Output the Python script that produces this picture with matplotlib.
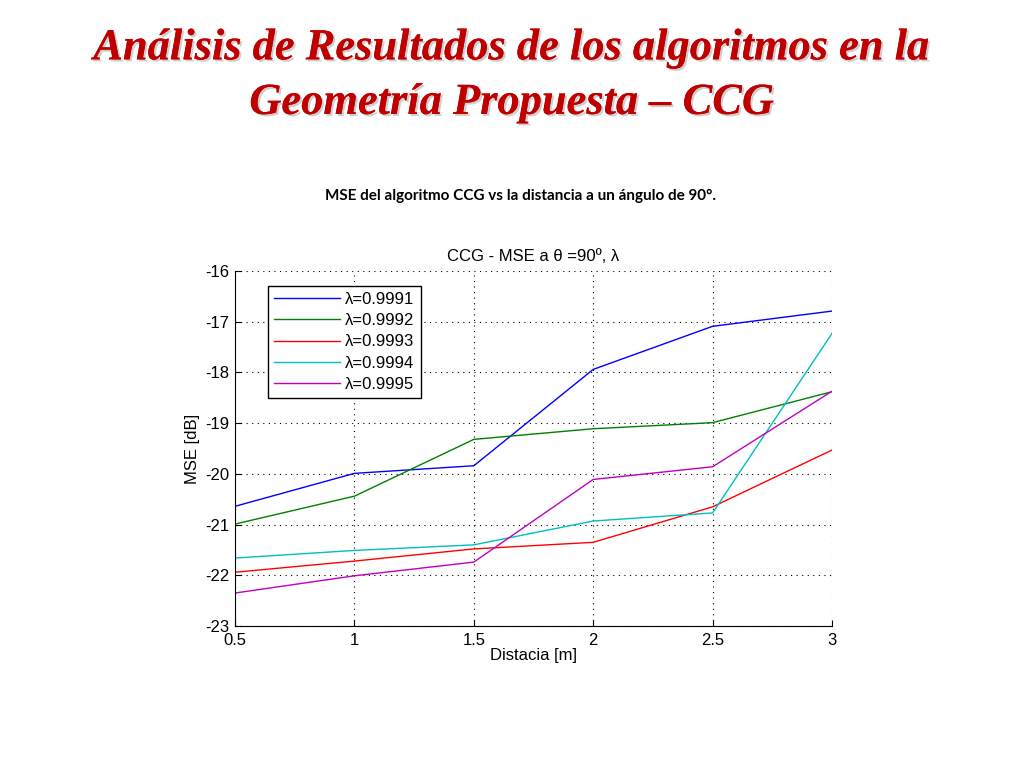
import matplotlib
matplotlib.use("Agg")
import matplotlib.pyplot as plt
import matplotlib.patheffects as pe

plt.rcParams["axes.unicode_minus"] = False

distancia = [0.5, 1.0, 1.5, 2.0, 2.5, 3.0]
lambdas = ["0.9991", "0.9992", "0.9993", "0.9994", "0.9995"]
mse_9991 = [-20.64, -19.99, -19.84, -17.94, -17.09, -16.79]
mse_9992 = [-20.99, -20.44, -19.32, -19.11, -18.99, -18.38]
mse_9993 = [-21.94, -21.72, -21.48, -21.35, -20.65, -19.53]
mse_9994 = [-21.66, -21.51, -21.40, -20.93, -20.77, -17.23]
mse_9995 = [-22.35, -22.01, -21.74, -20.11, -19.86, -18.37]
series = [mse_9991, mse_9992, mse_9993, mse_9994, mse_9995]
colors = ["#0000ff", "#008000", "#ff0000", "#00bfbf", "#bf00bf"]

fig = plt.figure(figsize=(10.24, 7.68), dpi=100)
fig.patch.set_facecolor("white")

title_fx = [pe.withSimplePatchShadow(offset=(1.5, -1.5), shadow_rgbFace="#b0b0b0", alpha=0.6), pe.Normal()]
fig.text(0.5, 0.937, "Análisis de Resultados de los algoritmos en la", ha="center", va="center",
         fontsize=32, fontweight="bold", fontstyle="italic", family="Liberation Serif",
         color="#c00000", path_effects=title_fx)
fig.text(0.5, 0.866, "Geometría Propuesta – CCG", ha="center", va="center",
         fontsize=32, fontweight="bold", fontstyle="italic", family="Liberation Serif",
         color="#c00000", path_effects=title_fx)
fig.text(0.508, 0.745, "MSE del algoritmo CCG vs la distancia a un ángulo de 90°.", ha="center", va="center",
         fontsize=11, fontweight="bold", family="Lato", color="black")

ax = fig.add_axes([0.2295, 0.1849, 0.583, 0.4622])
for vals, lam, c in zip(series, lambdas, colors):
    ax.plot(distancia, vals, color=c, lw=1.0, label="λ=" + lam)

ax.set_xlim(0.5, 3)
ax.set_ylim(-23, -16)
ax.set_xticks(distancia)
ax.set_xticklabels(["0.5", "1", "1.5", "2", "2.5", "3"])
ax.set_yticks(range(-23, -15))
ax.grid(True, color="black", linestyle=(0, (1, 4)), linewidth=0.8)
ax.spines["top"].set_visible(False)
ax.spines["right"].set_visible(False)
ax.tick_params(direction="in", labelsize=12, length=4)
ax.tick_params(axis="x", pad=5)
ax.tick_params(axis="y", pad=4)
for lbl in ax.get_xticklabels() + ax.get_yticklabels():
    lbl.set_family("Liberation Sans")
ax.set_title("CCG - MSE a θ =90º, λ", fontsize=12, family="Liberation Sans", pad=7)
ax.set_xlabel("Distacia [m]", fontsize=12, family="Liberation Sans", labelpad=0)
ax.set_ylabel("MSE [dB]", fontsize=12, family="Liberation Sans", labelpad=4)

leg = ax.legend(loc="upper left", bbox_to_anchor=(0.055, 0.958), borderaxespad=0,
                fancybox=False, edgecolor="black", framealpha=1,
                prop={"family": "Liberation Sans", "size": 12},
                handlelength=4.0, handletextpad=0.3, labelspacing=0.38, borderpad=0.35)
leg.get_frame().set_linewidth(1.0)

fig.savefig("out.png", dpi=100)
